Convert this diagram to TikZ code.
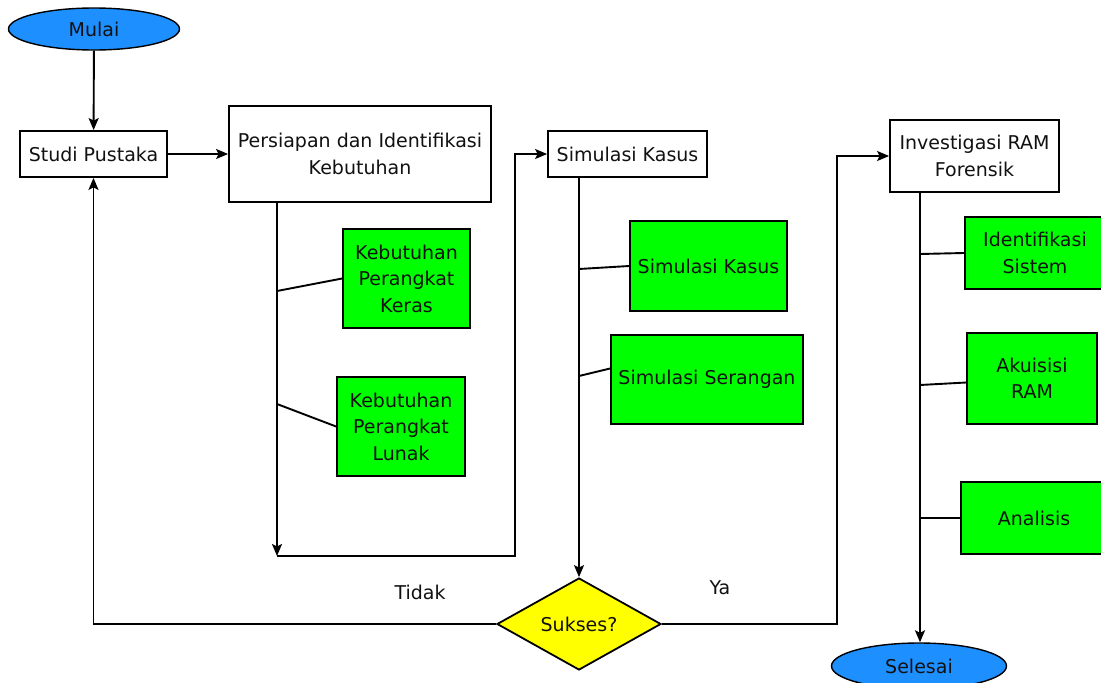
\documentclass[tikz,border=0pt]{standalone}
\usepackage{fontspec}
\setmainfont{DejaVu Sans}
\usetikzlibrary{shapes.geometric,arrows.meta,calc}
\definecolor{termblue}{HTML}{1E8FFF}
\definecolor{stepgreen}{HTML}{00FF00}
\definecolor{decyellow}{HTML}{FFFF00}
\definecolor{inktext}{HTML}{111111}
\begin{document}
\begin{tikzpicture}[x=1pt,y=-1pt,
  font=\fontsize{19}{26.5}\selectfont,
  every node/.style={inner sep=0pt, align=center, text=inktext},
  wbox/.style={draw, line width=1.8pt, fill=white, rectangle},
  gbox/.style={draw, line width=1.8pt, fill=stepgreen, rectangle},
  term/.style={draw, line width=1.4pt, fill=termblue, ellipse},
  dec/.style={draw, line width=1.8pt, fill=decyellow, diamond, aspect=1.78},
  conn/.style={line width=1.9pt},
  arr/.style={conn, -{Stealth[length=12pt,width=10pt,inset=2.5pt]}}]
\useasboundingbox (0,0) rectangle (1101,683);
\clip (0,0) rectangle (1101,683);
\fill[white] (0,0) rectangle (1101,683);

% nodes
\node[term, minimum width=171pt, minimum height=42pt] (mulai) at (94,29) {Mulai};
\node[wbox, minimum width=147pt, minimum height=46pt] (studi) at (93.5,154) {Studi Pustaka};
\node[wbox, minimum width=262pt, minimum height=96pt] (persiapan) at (360,154) {Persiapan dan Identifikasi\\Kebutuhan};
\node[gbox, minimum width=127pt, minimum height=99pt] (keras) at (406.5,278.5) {Kebutuhan\\Perangkat\\Keras};
\node[gbox, minimum width=128pt, minimum height=99pt] (lunak) at (401,426.5) {Kebutuhan\\Perangkat\\Lunak};
\node[wbox, minimum width=159pt, minimum height=46pt] (simk) at (627.5,154) {Simulasi Kasus};
\node[gbox, minimum width=157pt, minimum height=90pt] (gsimk) at (708.5,266) {Simulasi Kasus};
\node[gbox, minimum width=192pt, minimum height=89pt] (seran) at (707,379.5) {Simulasi Serangan};
\node[dec, minimum width=164pt, minimum height=92pt] (sukses) at (579,624) {Sukses?};
\node[wbox, minimum width=169pt, minimum height=72pt] (invest) at (974.5,156) {Investigasi RAM\\Forensik};
\node[gbox, minimum width=140pt, minimum height=72pt] (idsis) at (1035,253) {Identifikasi\\Sistem};
\node[gbox, minimum width=130pt, minimum height=91pt] (akuis) at (1032,378.5) {Akuisisi\\RAM};
\node[gbox, minimum width=146pt, minimum height=72pt] (anal) at (1034,518) {Analisis};
\node[term, minimum width=175pt, minimum height=46pt] (selesai) at (919,666) {Selesai};
\node (tidak) at (420,592) {Tidak};
\node (ya) at (720,588) {Ya};

% helper coordinates
\coordinate (c1) at (277,556);
\coordinate (c2) at (515,556);
\coordinate (k1) at (277,291);
\coordinate (l1) at (277,404);
\coordinate (s1) at (579,269);
\coordinate (s2) at (579,376);
\coordinate (c3) at (837,624);
\coordinate (r1) at (920,254);
\coordinate (r2) at (920,385);
\coordinate (r3) at (920,518);

% connectors
\draw[arr] (mulai) -- (studi);
\draw[arr] (studi) -- (persiapan);
\draw[arr] (persiapan.south -| c1) -- (c1);
\draw[arr] (c1) -- (c2) |- (simk.west);
\draw[conn] (k1) -- (keras.west);
\draw[conn] (l1) -- (lunak.west);
\draw[arr] (simk.south -| sukses.north) -- (sukses.north);
\draw[conn] (s1) -- (gsimk.west);
\draw[conn] (s2) -- ($(seran.west)+(0,-11)$);
\draw[arr] (sukses.west) -| (studi.south);
\draw[arr] (sukses.east) -- (c3) |- (invest.west);
\draw[arr] (invest.south -| r1) -- (selesai.north -| r1);
\draw[conn] (r1) -- (idsis.west);
\draw[conn] (r2) -- ($(akuis.west)+(0,4)$);
\draw[conn] (r3) -- (anal.west);
\end{tikzpicture}
\end{document}
